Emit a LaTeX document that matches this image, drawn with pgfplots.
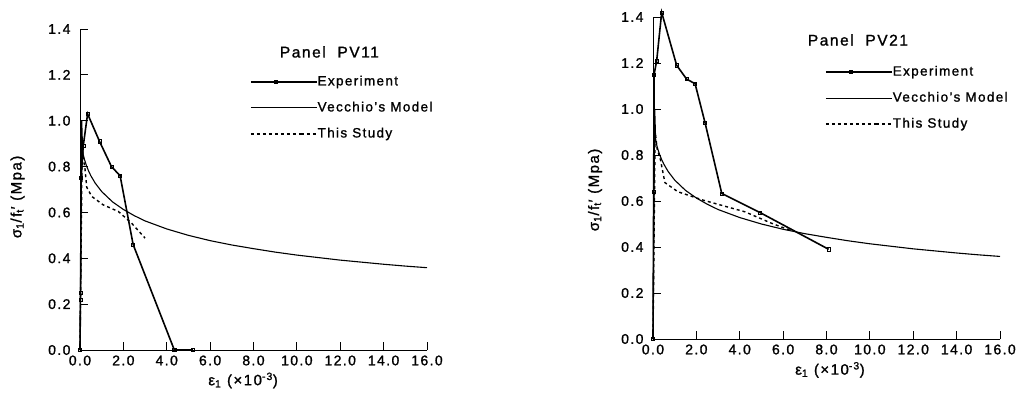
\documentclass[border=0pt]{standalone}
\usepackage{fontspec}
\setmainfont{Liberation Sans}[LetterSpace=10, FakeBold=1.2]
\usepackage{pgfplots}
\pgfplotsset{compat=1.18}

\pgfplotsset{
  panel/.style={
    scale only axis,
    width=347bp,
    xmin=0, xmax=16, ymin=0, ymax=1.4,
    clip=false,
    axis x line*=bottom, axis y line*=left,
    axis line style={-, line width=1bp},
    xtick={0,2,4,6,8,10,12,14,16},
    ytick={0,0.2,0.4,0.6,0.8,1.0,1.2,1.4},
    xtick pos=bottom, ytick pos=left,
    major tick length=8bp,
    xtick align=inside, ytick align=inside,
    xtick style={draw=black, line width=1bp},
    ytick style={draw=black, line width=1bp},
    /pgf/number format/assume math mode=true,
    /pgf/number format/fixed,
    /pgf/number format/fixed zerofill,
    /pgf/number format/precision=1,
    tick label style={font=\fontsize{14bp}{16bp}\selectfont},
    yticklabel style={xshift=-6bp},
    xticklabel style={yshift=-2bp},
    label style={font=\fontsize{15bp}{17bp}\selectfont},
    xlabel={ε\textsubscript{1} (×10\textsuperscript{-3})},
    ylabel={σ\textsubscript{1}/f\textsubscript{t}′ (Mpa)},
    legend cell align=left,
    legend image code/.code={
      \draw[mark repeat=2,mark phase=2,#1] plot coordinates {(0bp,0bp) (25bp,0bp) (50bp,0bp)};
      \path (50bp,0bp) -- (66bp,0bp);
    },
    legend style={draw=none, fill=none, inner sep=0pt, anchor=north west,
      row sep=15bp,
      nodes={inner sep=0pt, text height=9bp, text depth=2bp,
             font=\fontsize{13.5bp}{16bp}\selectfont}},
  },
  expt/.style={black, line width=1.6bp, mark=square, mark size=1.6bp,
    mark options={solid, line width=0.6bp, fill=white}},
  vecc/.style={black, line width=1.1bp, no marks},
  study/.style={black, line width=1.4bp, dash pattern=on 3bp off 3bp, no marks},
}
\newcommand\drawticks{%
  \pgfplotsinvokeforeach{0,2,4,6,8,10,12,14,16}{\draw[black, line width=1bp] (axis cs:##1,0) -- ++(0,8bp);}%
  \pgfplotsinvokeforeach{0,0.2,0.4,0.6,0.8,1.0,1.2,1.4}{\draw[black, line width=1bp] (axis cs:0,##1) -- ++(8bp,0);}%
}

\begin{document}
\begin{tikzpicture}
\useasboundingbox (0bp,0bp) rectangle (1021bp,-399bp);

% ---------------- Panel PV11 ----------------
\begin{axis}[panel, height=321bp, at={(80bp,-350bp)}, anchor=south west,
  xlabel style={at={(axis description cs:0.47,-0.095)}, anchor=center},
  ylabel style={at={(axis description cs:-0.18,0.477)}, anchor=center},
  legend style={at={(axis cs:7.83,1.194)}}]
\addplot[expt] coordinates {
 (0,0) (0.02,0.22) (0.03,0.25) (0.05,0.75) (0.15,0.89) (0.35,1.03)
 (0.9,0.91) (1.45,0.80) (1.85,0.76) (2.45,0.46) (4.35,0.0) (5.2,0.0)};
\addlegendentry{Experiment}
\addplot[vecc] coordinates {
 (0,0) (0.08,1.0) (0.12,0.87) (0.15,0.852) (0.2,0.833) (0.3,0.803) (0.4,0.780)
 (0.5,0.760) (0.7,0.728) (1.0,0.691) (1.5,0.646) (2.0,0.613) (2.5,0.586)
 (3.0,0.563) (4.0,0.528) (5.0,0.500) (6.0,0.477) (7.0,0.458) (8.0,0.442)
 (9.0,0.427) (10.0,0.414) (11.0,0.403) (12.0,0.392) (13.0,0.383)
 (14.0,0.374) (15.0,0.366) (16.0,0.359)};
\addlegendentry{Vecchio's Model}
\addplot[study] coordinates {
 (0,0) (0.1,0.88) (0.18,0.82) (0.23,0.79) (0.31,0.71) (0.54,0.67)
 (1.07,0.633) (1.77,0.604) (2.38,0.553) (3.0,0.488)};
\addlegendentry{This Study}
\drawticks
\node[font=\fontsize{15.5bp}{18bp}\selectfont] at (axis cs:11.5,1.30) {Panel\ \ PV11};
\end{axis}

% ---------------- Panel PV21 ----------------
\begin{axis}[panel, height=322bp, at={(653bp,-339bp)}, anchor=south west,
  xlabel style={at={(axis description cs:0.51,-0.096)}, anchor=center},
  ylabel style={at={(axis description cs:-0.167,0.463)}, anchor=center},
  legend style={at={(axis cs:7.93,1.185)}}]
\addplot[expt] coordinates {
 (0,0) (0.03,0.64) (0.05,1.15) (0.17,1.21) (0.4,1.42) (1.09,1.19)
 (1.55,1.13) (1.94,1.11) (2.4,0.94) (3.17,0.633) (4.93,0.55) (8.1,0.39)};
\addlegendentry{Experiment}
\addplot[vecc] coordinates {
 (0,0) (0.08,1.0) (0.12,0.87) (0.15,0.852) (0.2,0.833) (0.3,0.803) (0.4,0.780)
 (0.5,0.760) (0.7,0.728) (1.0,0.691) (1.5,0.646) (2.0,0.613) (2.5,0.586)
 (3.0,0.563) (4.0,0.528) (5.0,0.500) (6.0,0.477) (7.0,0.458) (8.0,0.442)
 (9.0,0.427) (10.0,0.414) (11.0,0.403) (12.0,0.392) (13.0,0.383)
 (14.0,0.374) (15.0,0.366) (16.0,0.359)};
\addlegendentry{Vecchio's Model}
\addplot[study] coordinates {
 (0,0) (0.1,0.90) (0.2,0.82) (0.32,0.79) (0.55,0.68) (1.15,0.64)
 (2.3,0.604) (4.24,0.553) (5.47,0.503) (6.4,0.47)};
\addlegendentry{This Study}
\drawticks
\node[font=\fontsize{15.5bp}{18bp}\selectfont] at (axis cs:9.45,1.30) {Panel\ \ PV21};
\end{axis}
\end{tikzpicture}
\end{document}
